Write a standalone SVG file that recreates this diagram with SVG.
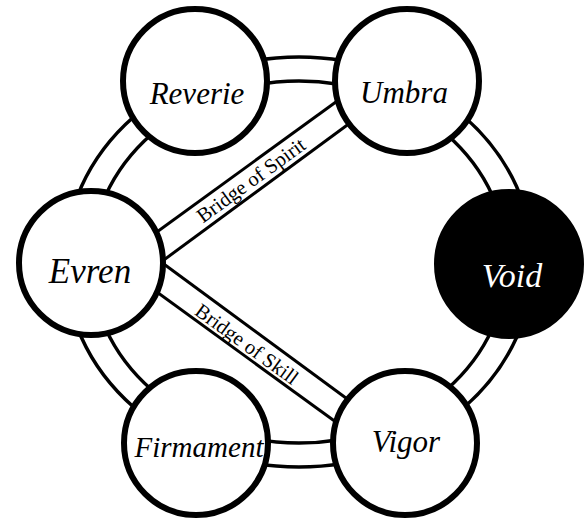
<svg xmlns="http://www.w3.org/2000/svg" width="585" height="520" viewBox="0 0 585 520">
<style>
.ring{fill:none;stroke:#000;stroke-width:3.5}
.rail{stroke:#000;stroke-width:3;fill:none}
.node{fill:#fff;stroke:#000;stroke-width:6}
.dark{fill:#000;stroke:#000;stroke-width:6}
.name{font-family:"Liberation Serif","DejaVu Serif",serif;font-style:italic;font-weight:normal;fill:#000;text-anchor:middle}
.bl{font-family:"Liberation Serif","DejaVu Serif",serif;font-size:20.5px;fill:#000;text-anchor:middle}
</style>
<rect width="585" height="520" fill="#fff"/>
<g id="connectors">
  <ellipse class="ring" cx="299" cy="262" rx="234" ry="205"/>
  <ellipse class="ring" cx="299" cy="262" rx="208" ry="181"/>
  <g id="bridge-spirit">
    <line class="rail" x1="150" y1="237" x2="340" y2="99"/>
    <line class="rail" x1="157" y1="265" x2="350" y2="123"/>
    <text class="bl" transform="translate(251,180) rotate(-36)" x="0" y="7">Bridge of Spirit</text>
  </g>
  <g id="bridge-skill">
    <line class="rail" x1="157" y1="259" x2="350" y2="401"/>
    <line class="rail" x1="150" y1="287" x2="340" y2="425"/>
    <text class="bl" transform="translate(247,344) rotate(36)" x="0" y="7">Bridge of Skill</text>
  </g>
</g>
<g id="reverie"><circle class="node" cx="195" cy="81" r="72"/><text class="name" x="197" y="104" font-size="31">Reverie</text></g>
<g id="umbra"><circle class="node" cx="407" cy="81" r="72"/><text class="name" x="404" y="103" font-size="31">Umbra</text></g>
<g id="evren"><circle class="node" cx="91" cy="263" r="72"/><text class="name" x="90" y="283" font-size="35">Evren</text></g>
<g id="void"><circle class="dark" cx="509" cy="264" r="72"/><text class="name" x="512" y="287" font-size="34" style="fill:#fff">Void</text></g>
<g id="firmament"><circle class="node" cx="196" cy="443" r="72"/><text class="name" x="199" y="457" font-size="29">Firmament</text></g>
<g id="vigor"><circle class="node" cx="405" cy="443" r="72"/><text class="name" x="406" y="452" font-size="31">Vigor</text></g>
</svg>
